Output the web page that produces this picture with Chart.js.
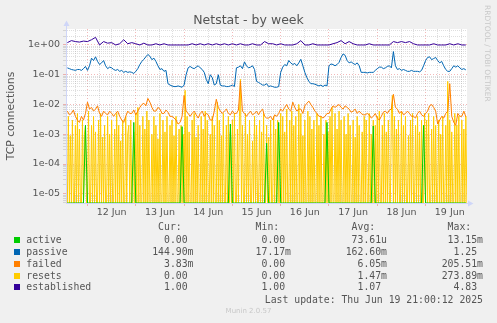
<!DOCTYPE html>
<html>
<head>
<meta charset="utf-8">
<title>Netstat - by week</title>
<script src="https://cdn.jsdelivr.net/npm/chart.js@4.4.1/dist/chart.umd.min.js"></script>
<style>
  html, body { margin: 0; padding: 0; background: #f0f0f0; }
  #wrap { position: relative; width: 497px; height: 323px; overflow: hidden; }
  #netstat { position: absolute; left: 0; top: 0; }
  .txt { position: absolute; white-space: pre; }
  .title { left: 0; width: 497px; top: 12px; line-height: 15px; text-align: center;
           font: 12.5px "DejaVu Sans", sans-serif; color: #555; }
  .mono { font: 9.8px "DejaVu Sans Mono", monospace; color: #555; line-height: 12px; }
  .swatch { position: absolute; width: 6px; height: 6px; }
  .faint { font: 7px "DejaVu Sans", sans-serif; color: #c8c8c8; line-height: 9px; }
  .vert { left: 483px; top: 5px; writing-mode: vertical-rl; font-size: 7.5px; }
</style>
</head>
<body>
<div id="wrap">
  <canvas id="netstat" width="497" height="323"></canvas>
  <div class="txt title">Netstat - by week</div>
  <div class="txt faint vert">RRDTOOL / TOBI OETIKER</div>
  <div id="legend"></div>
  <div class="txt faint" style="left:0;width:497px;text-align:center;top:307px;">Munin 2.0.57</div>
</div>
<script>
// samples start Jun 11 14:00, hours counted from Jun 11 00:00
const startHour = 14;
const coarseStep = 2;   // established
const hourStep = 1;     // active / passive / failed
const halfStep = 0.5;   // resets

// hourly
const passive = [
  0.17, 0.16, 0.15, 0.145, 0.14, 0.15, 0.15, 0.14, 0.16, 0.19,
  0.14, 0.20, 0.36, 0.30, 0.40, 0.28, 0.22, 0.25, 0.30, 0.20,
  0.16, 0.18, 0.17, 0.15, 0.14, 0.15, 0.13, 0.14, 0.12, 0.13,
  0.12, 0.125, 0.12, 0.11, 0.13, 0.16, 0.22, 0.28, 0.33, 0.40,
  0.48, 0.42, 0.32, 0.36, 0.28, 0.20, 0.15, 0.16, 0.13, 0.14,
  0.05, 0.045, 0.042, 0.04, 0.04, 0.042, 0.04, 0.038, 0.045, 0.10,
  0.17, 0.19, 0.17, 0.16, 0.18, 0.20, 0.17, 0.15, 0.12, 0.07,
  0.05, 0.10, 0.08, 0.045, 0.05, 0.10, 0.045, 0.042, 0.042, 0.04,
  0.04, 0.042, 0.045, 0.04, 0.17, 0.18, 0.20, 0.16, 0.27, 0.20,
  0.17, 0.18, 0.20, 0.15, 0.06, 0.055, 0.05, 0.045, 0.045, 0.05,
  0.04, 0.042, 0.04, 0.038, 0.038, 0.04, 0.12, 0.18, 0.22, 0.20,
  0.30, 0.25, 0.22, 0.24, 0.20, 0.25, 0.33, 0.20, 0.12, 0.08,
  0.06, 0.05, 0.05, 0.048, 0.045, 0.042, 0.045, 0.04, 0.045, 0.042,
  0.20, 0.23, 0.22, 0.20, 0.22, 0.26, 0.38, 0.50, 0.45, 0.30,
  0.25, 0.27, 0.24, 0.22, 0.25, 0.20, 0.12, 0.12, 0.12, 0.115,
  0.12, 0.12, 0.12, 0.14, 0.16, 0.18, 0.18, 0.16, 0.17, 0.19,
  0.20, 0.17, 0.60, 0.20, 0.15, 0.16, 0.14, 0.15, 0.14, 0.13,
  0.13, 0.14, 0.13, 0.13, 0.13, 0.125, 0.14, 0.20, 0.30, 0.38,
  0.40, 0.32, 0.35, 0.38, 0.30, 0.25, 0.28, 0.20, 0.15, 0.13,
  0.13, 0.16, 0.20, 0.18, 0.20, 0.17, 0.15, 0.16, 0.1449
];

const established = [
  1.2, 1.4, 1.3, 1.25, 1.35, 1.3, 1.5, 1.8, 1.0, 1.3,
  1.15, 1.2, 1.0, 1.1, 1.5, 1.1, 1.2, 1.1, 1.0, 1.15,
  1.0, 1.0, 1.1, 1.0, 1.1, 1.0, 1.0, 1.0, 1.0, 1.0,
  1.0, 1.1, 1.0, 1.1, 1.0, 1.1, 1.0, 1.1, 1.0, 1.1,
  1.0, 1.1, 1.0, 1.1, 1.0, 1.0, 1.1, 1.0, 1.0, 1.3,
  1.1, 1.1, 1.0, 1.1, 1.0, 1.0, 1.0, 1.1, 1.4, 1.0,
  1.0, 1.1, 1.0, 1.0, 1.0, 1.0, 1.1, 1.2, 1.4, 1.1,
  1.3, 1.1, 1.0, 1.0, 1.0, 1.1, 1.0, 1.0, 1.0, 1.0,
  1.0, 1.3, 1.2, 1.3, 1.2, 1.3, 1.1, 1.0, 1.0, 1.0,
  1.0, 1.1, 1.0, 1.0, 1.0, 1.1, 1.0, 1.1, 1.0, 1.0
];

// hourly
const failed = [
  0.006, 0.0045, 0.005, 0.0065, 0.004, 0.003, 0.0025, 0.004, 0.003, 0.005,
  0.012, 0.007, 0.008, 0.006, 0.007, 0.009, 0.005, 0.004, 0.006, 0.005,
  0.0045, 0.006, 0.005, 0.004, 0.005, 0.006, 0.004, 0.003, 0.0025, 0.004,
  0.006, 0.005, 0.005, 0.0065, 0.0045, 0.006, 0.008, 0.01, 0.011, 0.009,
  0.016, 0.012, 0.008, 0.006, 0.006, 0.008, 0.007, 0.005, 0.005, 0.0065,
  0.0055, 0.004, 0.004, 0.0035, 0.003, 0.0022, 0.0025, 0.004, 0.02, 0.006,
  0.005, 0.004, 0.005, 0.006, 0.0045, 0.0035, 0.005, 0.006, 0.004, 0.005,
  0.0045, 0.003, 0.003, 0.006, 0.015, 0.008, 0.006, 0.005, 0.006, 0.007,
  0.005, 0.0045, 0.006, 0.005, 0.005, 0.0065, 0.06, 0.006, 0.005, 0.004,
  0.005, 0.006, 0.0045, 0.005, 0.006, 0.0045, 0.006, 0.007, 0.004, 0.0035,
  0.0035, 0.004, 0.003, 0.0045, 0.004, 0.005, 0.007, 0.006, 0.008, 0.01,
  0.007, 0.006, 0.012, 0.008, 0.006, 0.007, 0.007, 0.005, 0.009, 0.011,
  0.013, 0.01, 0.008, 0.006, 0.005, 0.004, 0.004, 0.0035, 0.004, 0.005,
  0.005, 0.007, 0.009, 0.008, 0.009, 0.01, 0.008, 0.007, 0.009, 0.008,
  0.007, 0.0055, 0.006, 0.007, 0.005, 0.006, 0.005, 0.0045, 0.0045, 0.005,
  0.0045, 0.0035, 0.004, 0.005, 0.0035, 0.003, 0.004, 0.0055, 0.006, 0.005,
  0.0065, 0.007, 0.022, 0.008, 0.007, 0.005, 0.006, 0.0045, 0.005, 0.006,
  0.005, 0.004, 0.004, 0.0035, 0.005, 0.006, 0.0045, 0.004, 0.005, 0.006,
  0.009, 0.01, 0.008, 0.006, 0.0022, 0.003, 0.004, 0.0035, 0.005, 0.006,
  0.05, 0.004, 0.0025, 0.002, 0.005, 0.004, 0.004, 0.006, 0.00383
];

// hourly, one row per day (first row: Jun 11 14:00-23:00, last row: Jun 19 00:00-20:00)
const active = [
  0, 0, 0, 0, 0, 0, 0, 0, 0, 0.002,
  0, 0, 0, 0, 0, 0, 0, 0, 0, 0, 0, 0, 0, 0, 0, 0, 0, 0, 0, 0, 0, 0, 0, 0.0025,
  0, 0, 0, 0, 0, 0, 0, 0, 0, 0, 0, 0, 0, 0, 0, 0, 0, 0, 0, 0, 0, 0, 0, 0.0018,
  0, 0, 0, 0, 0, 0, 0, 0, 0, 0, 0, 0, 0, 0, 0, 0, 0, 0, 0, 0, 0, 0, 0, 0.0022,
  0, 0, 0, 0, 0, 0, 0, 0, 0, 0, 0, 0, 0, 0, 0, 0, 0, 0.0005, 0, 0, 0, 0, 0, 0.0025,
  0, 0, 0, 0, 0, 0, 0, 0, 0, 0, 0, 0, 0, 0, 0, 0, 0, 0, 0, 0, 0, 0, 0, 0.0025,
  0, 0, 0, 0, 0, 0, 0, 0, 0, 0, 0, 0, 0, 0, 0, 0, 0, 0, 0, 0, 0, 0, 0.0019, 0,
  0, 0, 0, 0, 0, 0, 0, 0, 0, 0, 0, 0, 0, 0, 0, 0, 0, 0, 0, 0, 0, 0, 0, 0.002,
  0, 0, 0, 0, 0, 0, 0, 0, 0, 0, 0, 0, 0, 0, 0, 0, 0, 0, 0, 0, 0
];

// half-hourly, one row per day (Jun 11 from 14:00, Jun 19 up to 20:30)
const resets = [
  0, 0.004, 0, 0.0009, 0, 0.003, 0, 0, 0.002, 0, 0.005, 0, 0.0015, 0, 0, 0.003, 0, 0.001, 0.002, 0,
  0, 0.006, 0, 0, 0.002, 0, 0.004, 0, 0.0012, 0, 0, 0.003, 0, 0.005, 0, 0.0008, 0, 0.002, 0, 0,
  0.004, 0, 0.001, 0, 0.003, 0, 0, 0.0015, 0, 0.005, 0, 0.002, 0, 0.0006, 0, 0.003, 0, 0, 0.004, 0,
  0.001, 0.002, 0, 0.003, 0, 0, 0.0012, 0,
  0.005, 0, 0.008, 0, 0.002, 0, 0, 0.004, 0, 0.0015, 0, 0.006, 0, 0.003, 0, 0, 0.001, 0, 0.004, 0,
  0.002, 0, 0.0007, 0, 0.005, 0, 0, 0.003, 0, 0.0012, 0, 0.004, 0, 0, 0.002, 0, 0.003, 0, 0.0009, 0,
  0.004, 0, 0, 0.0015, 0, 0.002, 0, 0.001,
  0, 0.03, 0, 0.004, 0, 0.0012, 0, 0, 0.003, 0, 0.005, 0, 0.0008, 0, 0.002, 0, 0, 0.004, 0, 0.0015,
  0, 0.006, 0, 0.003, 0, 0, 0.001, 0, 0.004, 0, 0.002, 0, 0, 0.012, 0, 0.003, 0, 0.0009, 0, 0.005,
  0, 0, 0.002, 0, 0.004, 0, 0.0012, 0,
  0.003, 0, 0.005, 0, 0, 0.0015, 0, 0.004, 0.07, 0, 0.002, 0, 0, 0.005, 0, 0.001, 0, 0.003, 0, 0,
  0.0006, 0, 0.004, 0, 0.002, 0, 0, 0.003, 0, 0.0012, 0, 0.005, 0, 0, 0.002, 0, 0.0008, 0, 0.003, 0,
  0, 0.004, 0, 0.0015, 0, 0.003, 0, 0,
  0.005, 0, 0.004, 0, 0.0012, 0, 0.007, 0, 0, 0.003, 0, 0.006, 0, 0.002, 0, 0.004, 0, 0, 0.01, 0,
  0.005, 0, 0.0009, 0, 0.003, 0, 0, 0.006, 0, 0.004, 0, 0.0015, 0, 0.003, 0, 0, 0.005, 0, 0.002, 0,
  0.004, 0, 0, 0.001, 0, 0.003, 0, 0.0012,
  0, 0.004, 0, 0.008, 0, 0, 0.005, 0, 0.0015, 0, 0.006, 0, 0.003, 0, 0, 0.004, 0, 0.001, 0, 0.005,
  0, 0.002, 0, 0, 0.003, 0, 0.0008, 0, 0.004, 0, 0.002, 0, 0, 0.0012, 0, 0.004, 0, 0.003, 0, 0,
  0.005, 0, 0.001, 0, 0.003, 0, 0.002, 0,
  0.004, 0, 0.006, 0, 0, 0.002, 0, 0.005, 0, 0.0012, 0, 0.003, 0, 0, 0.005, 0.02, 0, 0.004, 0, 0.0015,
  0, 0.003, 0, 0, 0.006, 0, 0.002, 0, 0.004, 0, 0, 0.0009, 0, 0.003, 0, 0.005, 0, 0, 0.002, 0,
  0.004, 0, 0.0012, 0, 0.003, 0, 0, 0.005,
  0, 0.003, 0, 0.005, 0, 0, 0.0015, 0, 0.004, 0, 0.002, 0, 0, 0.003, 0, 0.001, 0, 0.004, 0, 0,
  0.002, 0, 0.06, 0, 0.003, 0, 0.0012, 0, 0, 0.005, 0, 0.002, 0, 0.004, 0, 0, 0.003, 0, 0.0015, 0,
  0.004, 0
];

const dayLabels = ['12 Jun', '13 Jun', '14 Jun', '15 Jun', '16 Jun', '17 Jun', '18 Jun', '19 Jun'];
const firstNoon = 36;           // Jun 12 12:00
const xMin = 13.32, xMax = 212.57;
const yMin = 4.9e-6, yMax = 3.44;

const seriesNames = ['active', 'passive', 'failed', 'resets', 'established'];
const seriesColors = ['#00cc00', '#0066b3', '#ff8000', '#ffcc00', '#330099'];
const curText = ['0.00', '144.90m', '3.83m', '0.00', '1.00'];
const minText = ['0.00', '17.17m', '0.00', '0.00', '1.00'];
const avgText = ['73.61u', '162.60m', '6.05m', '1.47m', '1.07'];
const maxText = ['13.15m', '1.25', '205.51m', '273.89m', '4.83'];
const lastUpdate = 'Last update: Thu Jun 19 21:00:12 2025';

const gridMinor = 'rgba(160, 160, 160, 0.35)';
const gridMajor = 'rgba(225, 80, 80, 0.4)';
const axisColor = '#cfd6f8';

// zero can't sit on a log axis, rrdtool-style it is pinned to the floor
function toPoints(values, step) {
    return values.map((v, i) => ({ x: startHour + i * step, y: v > 0 ? v : yMin }));
}

function isMidnight(v) { return Math.abs(v % 24) < 1e-6; }

function expLabel(v) {
    const e = Math.round(Math.log10(v));
    return '1e' + (e < 0 ? '-' : '+') + String(Math.abs(e)).padStart(2, '0');
}

const plotBackground = {
    id: 'plotBackground',
    beforeDraw(chart) {
        const { ctx, chartArea: a } = chart;
        ctx.save();
        ctx.fillStyle = '#ffffff';
        ctx.fillRect(a.left, a.top, a.right - a.left, a.bottom - a.top);
        ctx.restore();
    }
};

const axisArrows = {
    id: 'axisArrows',
    afterDraw(chart) {
        const { ctx, chartArea: a } = chart;
        const x = Math.round(a.left) + 0.5;
        const y = Math.round(a.bottom) + 0.5;
        ctx.save();
        ctx.strokeStyle = axisColor;
        ctx.fillStyle = axisColor;
        ctx.lineWidth = 1;
        ctx.beginPath();
        ctx.moveTo(x, a.top); ctx.lineTo(x, a.top - 3);
        ctx.moveTo(a.right, y); ctx.lineTo(a.right + 2, y);
        ctx.stroke();
        ctx.beginPath();
        ctx.moveTo(x - 3, a.top - 3); ctx.lineTo(x + 3, a.top - 3); ctx.lineTo(x, a.top - 8.5);
        ctx.closePath(); ctx.fill();
        ctx.beginPath();
        ctx.moveTo(a.right + 1, y - 3); ctx.lineTo(a.right + 1, y + 3); ctx.lineTo(a.right + 6.5, y);
        ctx.closePath(); ctx.fill();
        ctx.restore();
    }
};

function line(label, values, step, color, order) {
    return {
        label,
        data: toPoints(values, step),
        borderColor: color,
        backgroundColor: color,
        borderWidth: 1,
        pointRadius: 0,
        tension: 0,
        fill: false,
        order
    };
}

new Chart(document.getElementById('netstat'), {
    type: 'line',
    data: {
        datasets: [
            line('active', active, hourStep, seriesColors[0], 1),
            line('passive', passive, hourStep, seriesColors[1], 3),
            line('failed', failed, hourStep, seriesColors[2], 2),
            line('resets', resets, halfStep, seriesColors[3], 4),
            line('established', established, coarseStep, seriesColors[4], 0)
        ]
    },
    options: {
        responsive: false,
        animation: false,
        events: [],
        layout: { padding: { top: 29, right: 30, bottom: 100, left: 0 } },
        plugins: {
            legend: { display: false },
            tooltip: { enabled: false },
            title: { display: false }
        },
        scales: {
            x: {
                type: 'linear',
                min: xMin,
                max: xMax,
                afterFit(scale) { scale.height = 20; },
                afterBuildTicks(scale) {
                    const ticks = [];
                    for (let h = Math.ceil(scale.min / 6) * 6; h <= scale.max; h += 6) {
                        ticks.push({ value: h });
                    }
                    scale.ticks = ticks;
                },
                grid: {
                    color: (ctx) => (ctx.tick && isMidnight(ctx.tick.value) ? gridMajor : gridMinor),
                    tickColor: (ctx) => (ctx.tick && isMidnight(ctx.tick.value) ? gridMajor : 'rgba(0,0,0,0)'),
                    tickLength: 3,
                    lineWidth: 1
                },
                border: {
                    color: axisColor,
                    dash: (ctx) => (ctx.tick ? (isMidnight(ctx.tick.value) ? [1, 2] : [1, 1]) : [])
                },
                ticks: {
                    autoSkip: false,
                    maxRotation: 0,
                    minRotation: 0,
                    padding: 1,
                    color: '#555',
                    font: { family: 'DejaVu Sans', size: 9.5 },
                    callback(value) {
                        const k = (value - firstNoon) / 24;
                        return Number.isInteger(k) && dayLabels[k] ? dayLabels[k] : '';
                    }
                }
            },
            y: {
                type: 'logarithmic',
                min: yMin,
                max: yMax,
                afterFit(scale) { scale.width = 66; },
                afterBuildTicks(scale) {
                    const ticks = [];
                    for (let e = -6; e <= 0; e++) {
                        for (let m = 1; m <= 9; m++) {
                            const v = m * Math.pow(10, e);
                            if (v >= scale.min && v <= scale.max) {
                                ticks.push({ value: v, decade: m === 1 });
                            }
                        }
                    }
                    scale.ticks = ticks;
                },
                grid: {
                    color: (ctx) => (ctx.tick && ctx.tick.decade ? gridMajor : gridMinor),
                    tickColor: (ctx) => (ctx.tick && ctx.tick.decade ? gridMajor : gridMinor),
                    tickLength: 3,
                    lineWidth: 1
                },
                border: {
                    color: axisColor,
                    dash: (ctx) => (ctx.tick ? (ctx.tick.decade ? [1, 2] : [1, 1]) : [])
                },
                title: {
                    display: true,
                    text: 'TCP connections',
                    color: '#555',
                    font: { family: 'DejaVu Sans', size: 10.8 },
                    padding: { top: 4.5, bottom: 0 }
                },
                ticks: {
                    autoSkip: false,
                    padding: 3,
                    color: '#555',
                    font: { family: 'DejaVu Sans', size: 9.5 },
                    callback(value, index, ticks) {
                        return ticks[index].decade ? expLabel(value) : '';
                    }
                }
            }
        }
    },
    plugins: [plotBackground, axisArrows]
});

// legend table under the plot
(function buildLegend() {
    const host = document.getElementById('legend');
    const rowY = [239.5, 251.7, 263.7, 275.7, 287.3];
    const colRight = [193.5, 291, 387, 483];
    const pad = (s) => (/\d$/.test(s) ? s + ' ' : s);

    function text(str, top, opts) {
        const el = document.createElement('div');
        el.className = 'txt mono';
        el.textContent = str;
        el.style.top = (top - 6) + 'px';
        if (opts.left !== undefined) el.style.left = opts.left + 'px';
        if (opts.right !== undefined) {
            el.style.right = (497 - opts.right) + 'px';
            el.style.textAlign = 'right';
        }
        host.appendChild(el);
    }

    ['Cur:  ', 'Min:  ', 'Avg:  ', 'Max:  '].forEach((h, c) => text(h, 227.3, { right: colRight[c] }));

    seriesNames.forEach((name, i) => {
        const sw = document.createElement('div');
        sw.className = 'swatch';
        sw.style.left = '14px';
        sw.style.top = (rowY[i] - 3) + 'px';
        sw.style.background = seriesColors[i];
        host.appendChild(sw);
        text(name, rowY[i], { left: 26.3 });
        [curText, minText, avgText, maxText].forEach((col, c) => text(pad(col[i]), rowY[i], { right: colRight[c] }));
    });

    text(lastUpdate, 299.7, { right: 483 });
})();
</script>
</body>
</html>
